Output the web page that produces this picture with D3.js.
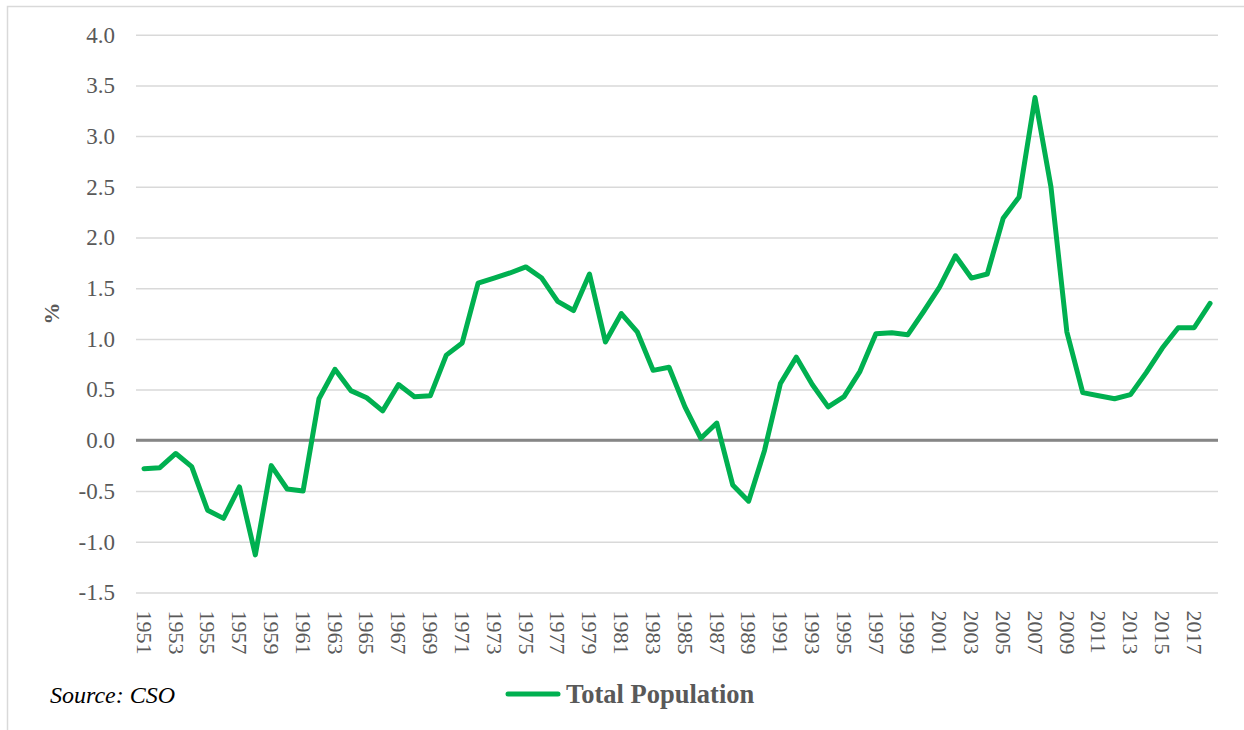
<!DOCTYPE html>
<html>
<head>
<meta charset="utf-8">
<script src="https://cdn.jsdelivr.net/npm/d3@7"></script>
<style>
  body { margin: 0; background: #fff; }
  svg { display: block; font-family: "Liberation Serif", "Times New Roman", serif; }
</style>
</head>
<body>
<svg id="chart" width="1244" height="730"></svg>
<script>
// annual population change, %
const years = d3.range(1951, 2019);
const growth = [
  -0.28, -0.27, -0.13, -0.26, -0.69, -0.77, -0.46, -1.13, -0.25, -0.48,
  -0.50, 0.41, 0.70, 0.49, 0.42, 0.29, 0.55, 0.43, 0.44, 0.84,
  0.96, 1.55, 1.60, 1.65, 1.71, 1.60, 1.37, 1.28, 1.64, 0.97,
  1.25, 1.07, 0.69, 0.72, 0.33, 0.02, 0.17, -0.44, -0.60, -0.10,
  0.56, 0.82, 0.55, 0.33, 0.43, 0.68, 1.05, 1.06, 1.04, 1.27,
  1.51, 1.82, 1.60, 1.64, 2.19, 2.40, 3.38, 2.50, 1.07, 0.47,
  0.44, 0.41, 0.45, 0.67, 0.91, 1.11, 1.11, 1.35
];
const yTicks = [-1.5, -1.0, -0.5, 0, 0.5, 1.0, 1.5, 2.0, 2.5, 3.0, 3.5, 4.0];
const xTickYears = years.filter((d, i) => i % 2 === 0);
const seriesName = 'Total Population';
const sourceText = 'Source: CSO';

const svg = d3.select('#chart');
const plot = { left: 136, right: 1218, top: 34.7, bottom: 592.4 };

// outer frame (runs off the page on the right and bottom)
svg.append('rect')
  .attr('x', 7.5).attr('y', 6.5)
  .attr('width', 1400).attr('height', 900)
  .attr('fill', 'none')
  .attr('stroke', '#d9d9d9')
  .attr('stroke-width', 1.5);

// scales
const x = d3.scaleBand().domain(years).range([plot.left, plot.right]);
const y = d3.scaleLinear().domain([-1.5, 4]).range([plot.bottom, plot.top]);
const cx = d => x(d) + x.bandwidth() / 2;

// gridlines + y labels (plain hyphen for negatives, like the original)
const yAxis = svg.append('g')
  .attr('transform', `translate(${plot.left},0)`)
  .call(d3.axisLeft(y)
    .tickValues(yTicks)
    .tickSize(-(plot.right - plot.left))
    .tickPadding(21)
    .tickFormat(d => d.toFixed(1)));
yAxis.select('.domain').remove();
yAxis.selectAll('line')
  .attr('stroke', '#d9d9d9')
  .attr('stroke-width', 1.5);
yAxis.selectAll('text')
  .attr('fill', '#595959')
  .style('font-size', '23px')
  .style('font-family', '"Liberation Serif", serif');

// zero line
svg.append('line')
  .attr('x1', plot.left).attr('x2', plot.right)
  .attr('y1', y(0)).attr('y2', y(0))
  .attr('stroke', '#868686')
  .attr('stroke-width', 3);

// x labels, rotated
const xAxis = svg.append('g')
  .attr('transform', `translate(0,${plot.bottom})`)
  .call(d3.axisBottom(x).tickValues(xTickYears).tickSize(0).tickPadding(0));
xAxis.select('.domain').remove();
xAxis.selectAll('text')
  .attr('fill', '#595959')
  .attr('transform', 'rotate(90)')
  .attr('x', 18)
  .attr('y', 0)
  .attr('dy', '0.33em')
  .attr('text-anchor', 'start')
  .style('font-size', '22px')
  .style('font-family', '"Liberation Serif", serif');

// y axis title
svg.append('text')
  .attr('transform', `translate(59,${(plot.top + plot.bottom) / 2}) rotate(-90)`)
  .attr('text-anchor', 'middle')
  .attr('fill', '#595959')
  .style('font-size', '22px')
  .style('font-weight', 'bold')
  .text('%');

// the series
const line = d3.line()
  .x((d, i) => cx(years[i]))
  .y(d => y(d));

svg.append('path')
  .datum(growth)
  .attr('d', line)
  .attr('fill', 'none')
  .attr('stroke', '#00b050')
  .attr('stroke-width', 5)
  .attr('stroke-linejoin', 'round')
  .attr('stroke-linecap', 'round');

// legend
svg.append('line')
  .attr('x1', 508).attr('x2', 558)
  .attr('y1', 694).attr('y2', 694)
  .attr('stroke', '#00b050')
  .attr('stroke-width', 5)
  .attr('stroke-linecap', 'round');
svg.append('text')
  .attr('x', 566).attr('y', 703)
  .attr('fill', '#595959')
  .style('font-size', '26.5px')
  .style('font-weight', 'bold')
  .text(seriesName);

// source note
svg.append('text')
  .attr('x', 50).attr('y', 703)
  .attr('fill', '#000')
  .style('font-size', '24px')
  .style('font-style', 'italic')
  .text(sourceText);
</script>
</body>
</html>
